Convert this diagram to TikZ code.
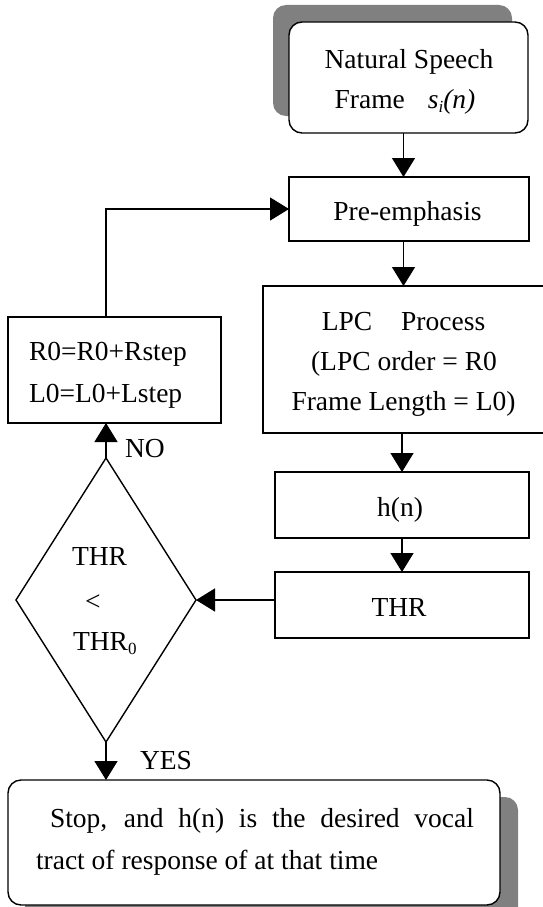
\documentclass[tikz,border=0pt]{standalone}
\usepackage{fontspec}
\setmainfont{Liberation Serif}
\usetikzlibrary{arrows.meta,shapes.geometric}
\newcommand\smallidx[1]{\raisebox{-4pt}{\fontsize{17}{17}\selectfont #1}}
\begin{document}
\begin{tikzpicture}[x=1pt,y=-1pt,
  every node/.style={inner sep=0pt, outer sep=0pt},
  txt/.style={font=\fontsize{27.5}{33}\selectfont, anchor=base},
  txtl/.style={txt, anchor=base west},
  box/.style={draw, line width=1.4pt, fill=white},
  rbox/.style={box, rounded corners=13pt},
  shade/.style={fill=black!50, rounded corners=13pt},
  arr/.style={line width=1.4pt, -{Triangle[length=19pt,width=23pt]}}
]
\useasboundingbox (0,0) rectangle (542,907);
\fill[white] (0,0) rectangle (542,907);

% drop shadows of the two rounded boxes
\fill[shade] (273,5) rectangle (512,116);
\fill[shade] (25,797) rectangle (518,925);

% boxes
\node[rbox, minimum width=239, minimum height=111] (nat) at (408.5,77.5) {};
\node[box, minimum width=240, minimum height=64] (pre) at (409,209) {};
\node[box, minimum width=297, minimum height=147] (lpc) at (411.5,359.5) {};
\node[box, minimum width=254, minimum height=66] (hn) at (402,505) {};
\node[box, minimum width=254, minimum height=66] (thr) at (402,605) {};
\node[box, minimum width=213, minimum height=106] (upd) at (114.5,370) {};
\node[diamond, draw, line width=1.4pt, minimum width=180, minimum height=284] (dia) at (106,600) {};
\node[rbox, minimum width=492, minimum height=125] (stop) at (254,842.5) {};

% texts
\node[txt] (natA) at (409,68) {Natural Speech};
\node[txt] (natB) at (405,108) {Frame\hspace{23pt}\textit{s}\smallidx{\textit{i}}\textit{(n)}};
\node[txt] (preT) at (407.5,220) {Pre-emphasis};
\node[txt] (lpcA) at (403.5,330) {LPC\hspace{29pt}Process};
\node[txt] (lpcB) at (404,370) {(LPC order = R0};
\node[txt] (lpcC) at (403.5,410) {Frame Length = L0)};
\node[txt] (hnT) at (400,516) {h(n)};
\node[txt] (thrT) at (399,616) {THR};
\node[txtl] (updA) at (29,360) {R0=R0+Rstep};
\node[txtl] (updB) at (29,402) {L0=L0+Lstep};
\node[txtl] (diaA) at (72,565) {THR};
\node[txtl] (diaB) at (85,610) {<};
\node[txtl] (diaC) at (73,650) {THR\smallidx{0}};
\node[txtl] (stopA) at (50,827) {\makebox[424pt][s]{Stop, and h(n) is the desired vocal}};
\node[txtl] (stopB) at (36,869) {tract of response of at that time};
\node[txtl] (no) at (125,457) {NO};
\node[txtl] (yes) at (140,769) {YES};

% connectors
\coordinate (colA) at (403.5,0);
\coordinate (colB) at (402,0);
\draw[arr] (nat.south -| colA) -- (pre.north -| colA);
\draw[arr] (pre.south -| colA) -- (lpc.north -| colA);
\draw[arr] (lpc.south -| colB) -- (hn.north -| colB);
\draw[arr] (hn.south -| colB) -- (thr.north -| colB);
\draw[arr] (thr.west |- dia.east) -- (dia.east);
\draw[arr] (dia.north) -- (dia.north |- upd.south);
\draw[arr] (upd.north -| dia.north) |- (pre.west);
\draw[arr] (dia.south) -- (dia.south |- stop.north);
\end{tikzpicture}
\end{document}
